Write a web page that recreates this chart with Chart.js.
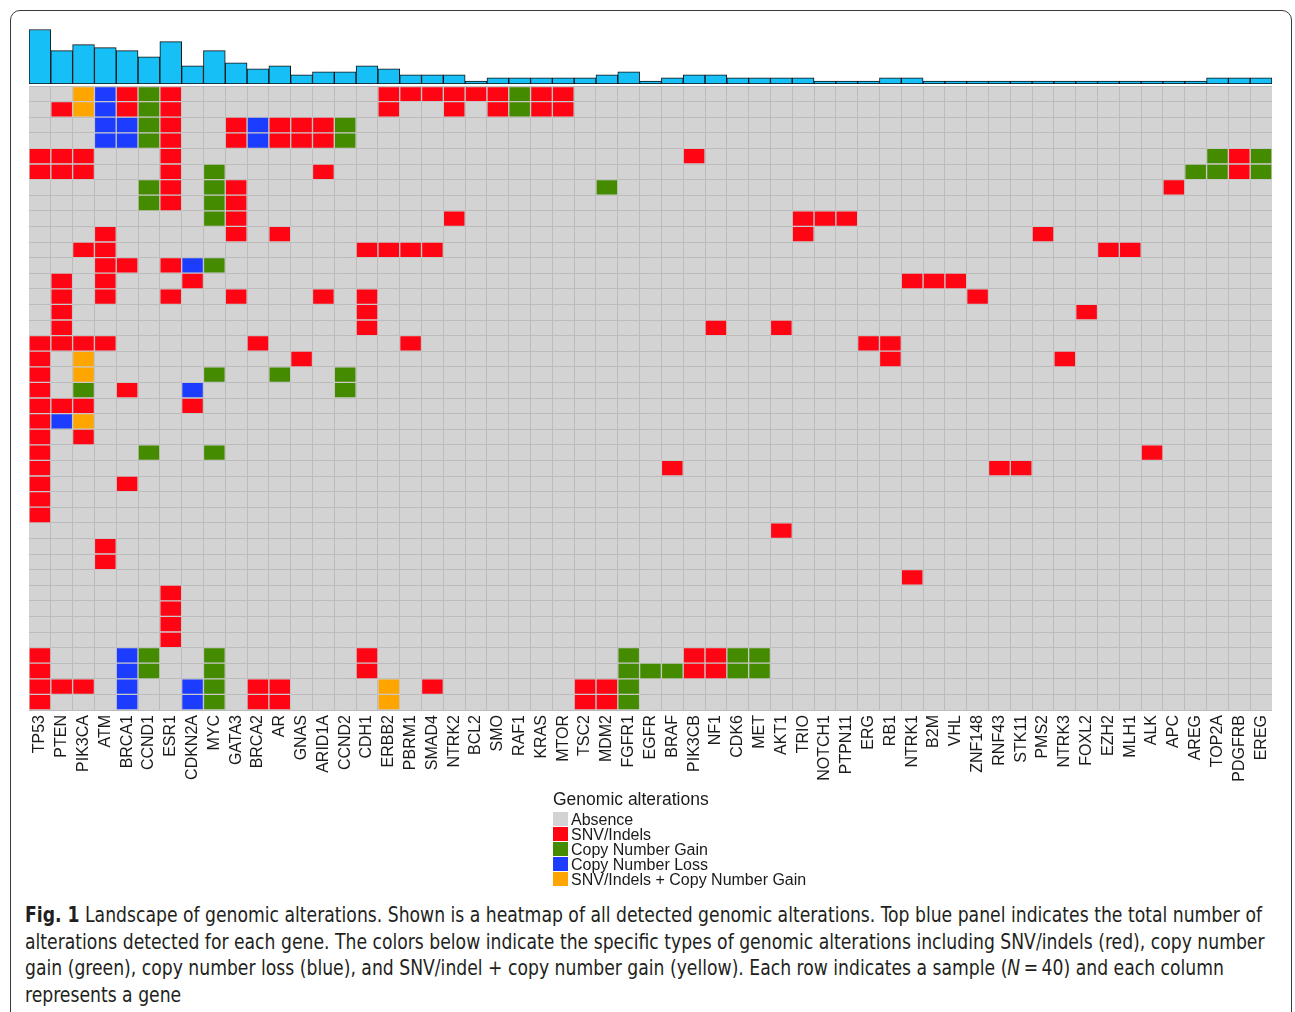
<!DOCTYPE html>
<html>
<head>
<meta charset="utf-8">
<script src="https://cdn.jsdelivr.net/npm/chart.js@4.4.1/dist/chart.umd.min.js"></script>
<style>
  body { margin: 0; background: #fff; width: 1295px; height: 1012px; overflow: hidden; position: relative;
         font-family: "Liberation Sans", Arial, sans-serif; }
  #frame { position: absolute; left: 10px; top: 10px; width: 1280px; height: 1030px;
           border: 1.5px solid #3a3a3a; border-radius: 10px; }
  #barWrap { position: absolute; left: 29px; top: 28px; width: 1243px; height: 56px; }
  #heatWrap { position: absolute; left: 29px; top: 86px; width: 1243px; height: 704px; }
  #legend { position: absolute; left: 553px; top: 789px; color: #1a1a1a; }
  #legend .title { font-size: 17.5px; line-height: 21px; margin-bottom: 2px; }
  #legend .item { height: 15px; line-height: 15px; font-size: 16px; white-space: nowrap; }
  #legend .sw { display: inline-block; width: 15px; height: 14px; vertical-align: top; margin-right: 3px; }
  #caption { position: absolute; left: 25px; top: 902px; color: #231f20; transform-origin: 0 0;
             font-family: "DejaVu Sans Condensed", "Liberation Sans", sans-serif;
             font-size: 21px; line-height: 26.7px; white-space: nowrap; }
</style>
</head>
<body>
<div id="frame"></div>
<div id="barWrap"><canvas id="bars"></canvas></div>
<div id="heatWrap"><canvas id="heat"></canvas></div>
<div id="legend"></div>
<div id="caption"><span id="capLine1"><b>Fig. 1</b> Landscape of genomic alterations. Shown is a heatmap of all detected genomic alterations. Top blue panel indicates the total number of</span><br>alterations detected for each gene. The colors below indicate the specific types of genomic alterations including SNV/indels (red), copy number<br>gain (green), copy number loss (blue), and SNV/indel + copy number gain (yellow). Each row indicates a sample (<i>N</i>&thinsp;=&thinsp;40) and each column<br>represents a gene</div>
<script>
const genes = ["TP53", "PTEN", "PIK3CA", "ATM", "BRCA1", "CCND1", "ESR1", "CDKN2A", "MYC", "GATA3",
  "BRCA2", "AR", "GNAS", "ARID1A", "CCND2", "CDH1", "ERBB2", "PBRM1", "SMAD4", "NTRK2",
  "BCL2", "SMO", "RAF1", "KRAS", "MTOR", "TSC2", "MDM2", "FGFR1", "EGFR", "BRAF",
  "PIK3CB", "NF1", "CDK6", "MET", "AKT1", "TRIO", "NOTCH1", "PTPN11", "ERG", "RB1",
  "NTRK1", "B2M", "VHL", "ZNF148", "RNF43", "STK11", "PMS2", "NTRK3", "FOXL2", "EZH2",
  "MLH1", "ALK", "APC", "AREG", "TOP2A", "PDGFRB", "EREG"];

// total alterations per gene (top blue panel)
const alterationTotals = [18, 11, 13, 12, 11, 9, 14, 6, 11, 7,
  5, 6, 3, 4, 4, 6, 5, 3, 3, 3,
  1, 2, 2, 2, 2, 2, 3, 4, 1, 2,
  3, 3, 2, 2, 2, 2, 1, 1, 1, 2,
  2, 1, 1, 1, 1, 1, 1, 1, 1, 1,
  1, 1, 1, 1, 2, 2, 2];

const sampleCount = 40;

// [gene, sample rows (0 = top)]
const snvIndels = [
  ["TP53", [4, 5, 16, 17, 18, 19, 20, 21, 22, 23, 24, 25, 26, 27, 36, 37, 38, 39]],
  ["PTEN", [1, 4, 5, 12, 13, 14, 15, 16, 20, 38]],
  ["PIK3CA", [4, 5, 10, 16, 20, 22, 38]],
  ["ATM", [9, 10, 11, 12, 13, 16, 29, 30]],
  ["BRCA1", [0, 1, 11, 19, 25]],
  ["ESR1", [0, 1, 2, 3, 4, 5, 6, 7, 11, 13, 32, 33, 34, 35]],
  ["CDKN2A", [12, 20]],
  ["GATA3", [2, 3, 6, 7, 8, 9, 13]],
  ["BRCA2", [16, 38, 39]],
  ["AR", [2, 3, 9, 38, 39]],
  ["GNAS", [2, 3, 17]],
  ["ARID1A", [2, 3, 5, 13]],
  ["CDH1", [10, 13, 14, 15, 36, 37]],
  ["ERBB2", [0, 1, 10]],
  ["PBRM1", [0, 10, 16]],
  ["SMAD4", [0, 10, 38]],
  ["NTRK2", [0, 1, 8]],
  ["BCL2", [0]],
  ["SMO", [0, 1]],
  ["KRAS", [0, 1]],
  ["MTOR", [0, 1]],
  ["TSC2", [38, 39]],
  ["MDM2", [38, 39]],
  ["BRAF", [24]],
  ["PIK3CB", [4, 36, 37]],
  ["NF1", [15, 36, 37]],
  ["AKT1", [15, 28]],
  ["TRIO", [8, 9]],
  ["NOTCH1", [8]],
  ["PTPN11", [8]],
  ["ERG", [16]],
  ["RB1", [16, 17]],
  ["NTRK1", [12, 31]],
  ["B2M", [12]],
  ["VHL", [12]],
  ["ZNF148", [13]],
  ["RNF43", [24]],
  ["STK11", [24]],
  ["PMS2", [9]],
  ["NTRK3", [17]],
  ["FOXL2", [14]],
  ["EZH2", [10]],
  ["MLH1", [10]],
  ["ALK", [23]],
  ["APC", [6]],
  ["PDGFRB", [4, 5]]
];

const copyGain = [
  ["PIK3CA", [19]],
  ["CCND1", [0, 1, 2, 3, 6, 7, 23, 36, 37]],
  ["MYC", [5, 6, 7, 8, 11, 18, 23, 36, 37, 38, 39]],
  ["AR", [18]],
  ["CCND2", [2, 3, 18, 19]],
  ["RAF1", [0, 1]],
  ["MDM2", [6]],
  ["FGFR1", [36, 37, 38, 39]],
  ["EGFR", [37]],
  ["BRAF", [37]],
  ["CDK6", [36, 37]],
  ["MET", [36, 37]],
  ["AREG", [5]],
  ["TOP2A", [4, 5]],
  ["EREG", [4, 5]]
];

const copyLoss = [
  ["PTEN", [21]],
  ["ATM", [0, 1, 2, 3]],
  ["BRCA1", [2, 3, 36, 37, 38, 39]],
  ["CDKN2A", [11, 19, 38, 39]],
  ["BRCA2", [2, 3]]
];

const snvPlusGain = [
  ["PIK3CA", [0, 1, 17, 18, 21]],
  ["ERBB2", [38, 39]]
];

const typeNames = ["Absence", "SNV/Indels", "Copy Number Gain", "Copy Number Loss", "SNV/Indels + Copy Number Gain"];
const typeColors = ["#d3d3d3", "#ff0413", "#458b00", "#1c3cff", "#ffa500"];

function cells(list) {
  const out = [];
  list.forEach(([g, rows]) => rows.forEach(r => out.push({ x: g, y: [r, r + 1] })));
  return out;
}

// top panel
new Chart(document.getElementById("bars"), {
  type: "bar",
  data: {
    labels: genes,
    datasets: [{
      data: alterationTotals,
      backgroundColor: "#17bff7",
      borderColor: "#111",
      borderWidth: 1,
      borderSkipped: false,
      barPercentage: 1,
      categoryPercentage: 1
    }]
  },
  options: {
    responsive: true,
    maintainAspectRatio: false,
    animation: false,
    plugins: { legend: { display: false }, tooltip: { enabled: false } },
    layout: { padding: 0 },
    scales: {
      x: { display: false },
      y: { display: false, min: 0, max: 18.5 }
    }
  }
});

// grey background = absence
const absenceFill = {
  id: "absenceFill",
  beforeDraw(chart) {
    const a = chart.chartArea;
    const ctx = chart.ctx;
    ctx.save();
    ctx.fillStyle = typeColors[0];
    ctx.fillRect(a.left, a.top, a.right - a.left, a.bottom - a.top);
    ctx.restore();
  }
};

const cellStyle = {
  grouped: false,
  barPercentage: 1,
  categoryPercentage: 1,
  borderWidth: 1,
  borderSkipped: false,
  borderColor: "rgba(205,205,205,0.6)"
};

new Chart(document.getElementById("heat"), {
  type: "bar",
  data: {
    labels: genes,
    datasets: [
      { label: typeNames[1], data: cells(snvIndels), backgroundColor: typeColors[1], ...cellStyle },
      { label: typeNames[2], data: cells(copyGain), backgroundColor: typeColors[2], ...cellStyle },
      { label: typeNames[3], data: cells(copyLoss), backgroundColor: typeColors[3], ...cellStyle },
      { label: typeNames[4], data: cells(snvPlusGain), backgroundColor: typeColors[4], ...cellStyle }
    ]
  },
  options: {
    responsive: true,
    maintainAspectRatio: false,
    animation: false,
    plugins: { legend: { display: false }, tooltip: { enabled: false } },
    layout: { padding: 0 },
    scales: {
      x: {
        offset: true,
        grid: { display: true, offset: true, color: "#bcbcbc", lineWidth: 1, drawTicks: false },
        border: { display: false },
        ticks: {
          autoSkip: false, minRotation: 90, maxRotation: 90, padding: 5,
          color: "#1a1a1a", font: { family: '"Liberation Sans", Arial, sans-serif', size: 16 }
        },
        afterFit(s) { s.height = 80; s.paddingLeft = 0; s.paddingRight = 0; }
      },
      y: {
        min: 0, max: sampleCount, reverse: true,
        ticks: { display: false, stepSize: 1 },
        grid: { color: "#bcbcbc", lineWidth: 1, drawTicks: false },
        border: { display: false },
        afterFit(s) { s.width = 0; }
      }
    }
  },
  plugins: [absenceFill]
});

// legend
const lg = document.getElementById("legend");
let html = '<div class="title">Genomic alterations</div>';
typeNames.forEach((n, i) => {
  html += '<div class="item"><span class="sw" style="background:' + typeColors[i] + '"></span>' + n + '</div>';
});
lg.innerHTML = html;

// squeeze the caption so the first line spans the same width as the figure's
const capW = document.getElementById("capLine1").getBoundingClientRect().width;
document.getElementById("caption").style.transform = "scaleX(" + (1237 / capW) + ")";
</script>
</body>
</html>
